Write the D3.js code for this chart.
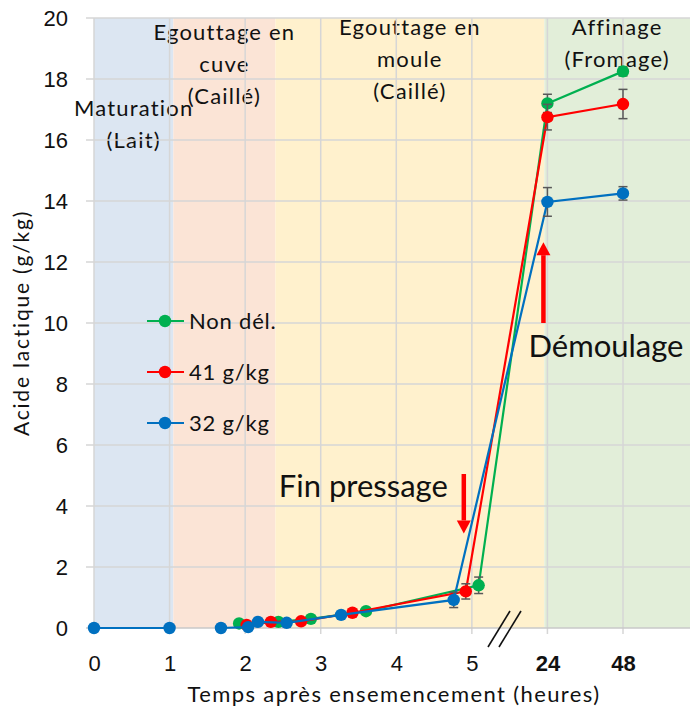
<!DOCTYPE html>
<html>
<head>
<meta charset="utf-8">
<script src="https://cdn.jsdelivr.net/npm/d3@7"></script>
<style>
  html, body { margin: 0; padding: 0; background: #fff; }
  svg { display: block; font-family: Lato, "Open Sans", sans-serif; }
</style>
</head>
<body>
<svg id="chart" width="690" height="711"></svg>
<script>
// ---- Data -------------------------------------------------------------
// Time axis: hours after inoculation (broken axis between 5 h and 24 h)
const xTickValues = [0, 1, 2, 3, 4, 5, 24, 48];
const xTickLabels = ["0", "1", "2", "3", "4", "5", "24", "48"];
const xTickBold   = [false, false, false, false, false, false, true, true];
const yTickValues = [0, 2, 4, 6, 8, 10, 12, 14, 16, 18, 20];

// Milk maturation (common to all batches)
const laitHours  = [0, 1];
const laitValues = [0, 0];

// Non délactosé
const nonDelHours  = [1.92, 2.44, 2.87, 3.60, 5.09, 24, 48];
const nonDelValues = [0.15, 0.20, 0.30, 0.55, 1.40, 17.20, 18.25];
const nonDelErrors = [null, null, null, null, 0.27, 0.30, 0.15];

// 41 g/kg
const g41Hours  = [2.02, 2.34, 2.74, 3.42, 4.92, 24, 48];
const g41Values = [0.10, 0.20, 0.22, 0.50, 1.20, 16.75, 17.18];
const g41Errors = [null, null, null, null, 0.25, 0.42, 0.48];

// 32 g/kg
const g32Hours  = [1.68, 2.04, 2.17, 2.55, 3.27, 4.76, 24, 48];
const g32Values = [0.00, 0.03, 0.20, 0.17, 0.43, 0.92, 13.97, 14.25];
const g32Errors = [null, null, null, null, null, 0.25, 0.47, 0.22];

const seriesNames  = ["Non dél.", "41 g/kg", "32 g/kg"];
const seriesColors = ["#00b050", "#ff0000", "#0070c0"];

// Process phases (start / end in hours)
const phaseNames  = [["Maturation", "(Lait)"], ["Egouttage en", "cuve", "(Caillé)"],
                     ["Egouttage en", "moule", "(Caillé)"], ["Affinage", "(Fromage)"]];
const phaseStarts = [0, 1.05, 2.4, 22.5];
const phaseEnds   = [1.05, 2.4, 22.5, null];   // null = to the right edge
const phaseColors = ["#dce6f2", "#fbe4d6", "#fff1cd", "#e2eed9"];

// ---- Layout -----------------------------------------------------------
const W = 690, H = 711;
const plot = { left: 86, right: 690, top: 18, bottom: 628 };
const slot = 75.57, x0 = 94;
const phaseLabelTop = [90, 14, 9, 9];   // px below plot top for first line
const lineGap = 32;

const svg = d3.select("#chart");

// piecewise scale: 0–5.5 h linear, then one slot each for 24 h and 48 h
const x = d3.scaleLinear()
  .domain([0, 5.5, 24, 48])
  .range([x0, x0 + 5.5 * slot, x0 + 6 * slot, x0 + 7 * slot]);
const y = d3.scaleLinear().domain([0, 20]).range([plot.bottom, plot.top]);

// phase captions are cut at the top edge of the plot only
svg.append("defs").append("clipPath").attr("id", "topClip")
  .append("rect")
  .attr("x", 0).attr("y", plot.top)
  .attr("width", W).attr("height", H - plot.top);

// ---- Phase bands ------------------------------------------------------
const phases = phaseNames.map((n, i) => ({
  lines: n, start: phaseStarts[i], end: phaseEnds[i], color: phaseColors[i], top: phaseLabelTop[i]
}));
const bandX1 = d => d.end === null ? plot.right : x(d.end);

svg.append("g").selectAll("rect").data(phases).join("rect")
  .attr("x", d => x(d.start))
  .attr("y", plot.top)
  .attr("width", d => bandX1(d) - x(d.start))
  .attr("height", plot.bottom - plot.top)
  .attr("fill", d => d.color);

const phaseText = svg.append("g").attr("clip-path", "url(#topClip)");
phases.forEach(p => {
  const cx = (x(p.start) + bandX1(p)) / 2;
  p.lines.forEach((ln, j) => {
    phaseText.append("text")
      .attr("x", cx)
      .attr("y", plot.top + p.top + j * lineGap)
      .attr("dy", "0.35em")
      .attr("text-anchor", "middle")
      .attr("font-size", 22)
      .attr("letter-spacing", 1.2)
      .attr("fill", "#111")
      .text(ln);
  });
});

// ---- Grid -------------------------------------------------------------
const grid = svg.append("g").attr("stroke", "#d6d6d6").attr("stroke-width", 1.5);
grid.selectAll("line.h").data(yTickValues.filter(v => v > 0)).join("line")
  .attr("class", "h")
  .attr("x1", plot.left).attr("x2", plot.right)
  .attr("y1", d => y(d)).attr("y2", d => y(d));
grid.selectAll("line.v").data(xTickValues).join("line")
  .attr("class", "v")
  .attr("x1", d => x(d)).attr("x2", d => x(d))
  .attr("y1", plot.top).attr("y2", plot.bottom + 6);

// ---- Axes -------------------------------------------------------------
const xAxis = d3.axisBottom(x)
  .tickValues(xTickValues)
  .tickFormat((d, i) => xTickLabels[i])
  .tickSize(0).tickPadding(27);
const gx = svg.append("g").attr("transform", `translate(0,${plot.bottom})`).call(xAxis);
gx.select(".domain").remove();
gx.selectAll("text")
  .attr("font-size", 22)
  .attr("fill", "#111")
  .attr("font-weight", (d, i) => xTickBold[i] ? "bold" : "normal");
svg.append("line")
  .attr("x1", plot.left).attr("x2", plot.right)
  .attr("y1", plot.bottom).attr("y2", plot.bottom)
  .attr("stroke", "#c8c8c8").attr("stroke-width", 1.5);

const yAxis = d3.axisLeft(y).tickValues(yTickValues).tickSize(0).tickPadding(18);
const gy = svg.append("g").attr("transform", `translate(${plot.left},0)`).call(yAxis);
gy.select(".domain").remove();
gy.selectAll("text").attr("font-size", 22).attr("fill", "#111");

// axis break marks between 5 h and 24 h
const brk = svg.append("g").attr("stroke", "#111").attr("stroke-width", 1.6);
[0, 11].forEach(off => {
  brk.append("line")
    .attr("x1", 488 + off).attr("y1", plot.bottom + 19)
    .attr("x2", 510 + off).attr("y2", plot.bottom - 17);
});

// axis titles
svg.append("text")
  .attr("x", (x0 + plot.right) / 2 + 2).attr("y", 694)
  .attr("dy", "0.35em")
  .attr("text-anchor", "middle").attr("font-size", 22)
  .attr("letter-spacing", 1.4).attr("fill", "#111")
  .text("Temps après ensemencement  (heures)");
svg.append("text")
  .attr("transform", `translate(22,${(plot.top + plot.bottom) / 2}) rotate(-90)`)
  .attr("dy", "0.35em")
  .attr("text-anchor", "middle").attr("font-size", 21)
  .attr("letter-spacing", 1.8).attr("fill", "#111")
  .text("Acide lactique (g/kg)");

// ---- Series -----------------------------------------------------------
const zip = (h, v, e) => h.map((t, i) => ({ t, v: v[i], e: e ? e[i] : null }));
const series = [
  { name: seriesNames[0], color: seriesColors[0], pts: zip(nonDelHours, nonDelValues, nonDelErrors) },
  { name: seriesNames[1], color: seriesColors[1], pts: zip(g41Hours, g41Values, g41Errors) },
  { name: seriesNames[2], color: seriesColors[2], pts: zip(g32Hours, g32Values, g32Errors) },
  { name: "lait", color: seriesColors[2], pts: zip(laitHours, laitValues, null) }
];

const line = d3.line().x(d => x(d.t)).y(d => y(d.v));
const capW = 4.5;

series.forEach(s => {
  const g = svg.append("g");
  g.append("path").datum(s.pts)
    .attr("d", line).attr("fill", "none")
    .attr("stroke", s.color).attr("stroke-width", 2.2);
  const eb = g.append("g").attr("stroke", "#595959").attr("stroke-width", 1.5);
  s.pts.filter(d => d.e).forEach(d => {
    const cx = x(d.t), yt = y(d.v + d.e), yb = y(d.v - d.e);
    eb.append("line").attr("x1", cx).attr("x2", cx).attr("y1", yt).attr("y2", yb);
    eb.append("line").attr("x1", cx - capW).attr("x2", cx + capW).attr("y1", yt).attr("y2", yt);
    eb.append("line").attr("x1", cx - capW).attr("x2", cx + capW).attr("y1", yb).attr("y2", yb);
  });
  g.selectAll("circle").data(s.pts).join("circle")
    .attr("cx", d => x(d.t)).attr("cy", d => y(d.v))
    .attr("r", 6.2).attr("fill", s.color);
});

// ---- Legend -----------------------------------------------------------
const legendRows = [321, 372, 423];
const lg = svg.append("g");
series.slice(0, 3).forEach((s, i) => {
  const ly = legendRows[i];
  lg.append("line").attr("x1", 147).attr("x2", 184).attr("y1", ly).attr("y2", ly)
    .attr("stroke", s.color).attr("stroke-width", 2.2);
  lg.append("circle").attr("cx", 165).attr("cy", ly).attr("r", 6.2).attr("fill", s.color);
  lg.append("text").attr("x", 189).attr("y", ly).attr("dy", "0.35em")
    .attr("font-size", 22).attr("letter-spacing", 0.8)
    .attr("fill", "#111").text(s.name);
});

// ---- Annotations ------------------------------------------------------
function arrow(g, xPos, yFrom, yTo) {
  const dir = Math.sign(yTo - yFrom);
  const head = 13, half = 7;
  g.append("line")
    .attr("x1", xPos).attr("x2", xPos)
    .attr("y1", yFrom).attr("y2", yTo - dir * head)
    .attr("stroke", "#ff0000").attr("stroke-width", 4.5);
  g.append("path")
    .attr("d", `M${xPos - half},${yTo - dir * head} L${xPos + half},${yTo - dir * head} L${xPos},${yTo} Z`)
    .attr("fill", "#ff0000");
}
const ann = svg.append("g");
// end of pressing: arrow pointing down onto the 41 g/kg point
const pressX = x(g41Hours[4]) - 2;
arrow(ann, pressX, y(5.05), y(3.1));
ann.append("text")
  .attr("x", pressX - 16).attr("y", y(4.3))
  .attr("text-anchor", "end").attr("font-size", 31).attr("fill", "#111")
  .text("Fin pressage");
// unmoulding: arrow pointing up just before 24 h
const demX = x(24) - 4;
arrow(ann, demX, y(10), y(12.65));
ann.append("text")
  .attr("x", x(24) - 19).attr("y", y(8.9))
  .attr("font-size", 31).attr("fill", "#111")
  .text("Démoulage");
</script>
</body>
</html>
